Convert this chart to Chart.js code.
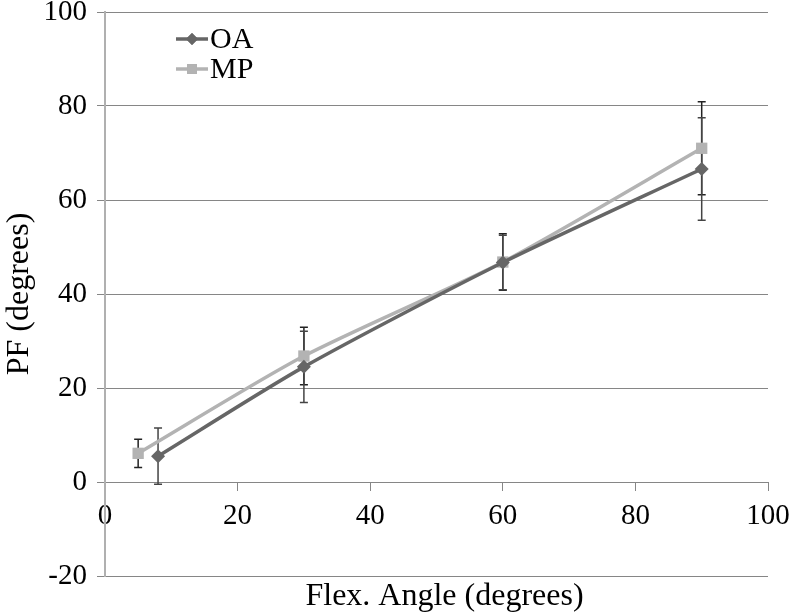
<!DOCTYPE html>
<html>
<head>
<meta charset="utf-8">
<script src="https://cdn.jsdelivr.net/npm/chart.js@4/dist/chart.umd.min.js"></script>
<style>
  html, body { margin: 0; padding: 0; background: #fff; }
  #wrap { width: 793px; height: 615px; }
</style>
</head>
<body>
<div id="wrap"><canvas id="chart" width="793" height="615"></canvas></div>
<script>
// values
const oaAngles = [8, 30, 60, 90];
const oaValues = [5.5, 24.5, 46.7, 66.6];
const oaErrors = [6.0, 7.6, 5.8, 10.9];

const mpAngles = [5, 30, 60, 90];
const mpValues = [6.1, 26.8, 46.8, 71.0];
const mpErrors = [3.0, 6.1, 6.0, 9.9];

const xTicks = [0, 20, 40, 60, 80, 100];
const yTicks = [-20, 0, 20, 40, 60, 80, 100];

const serif = "'Liberation Serif', 'Times New Roman', serif";
const oaColor = "#666666";
const mpColor = "#b3b3b3";

function points(xs, ys) {
  return xs.map((x, i) => ({ x: x, y: ys[i] }));
}

// error bars, drawn under the lines
const errorBars = {
  id: "errorBars",
  beforeDatasetsDraw(chart) {
    const ctx = chart.ctx;
    const xs = chart.scales.x, ys = chart.scales.y;
    const sets = [
      { xv: mpAngles, yv: mpValues, ev: mpErrors, color: "#222" },
      { xv: oaAngles, yv: oaValues, ev: oaErrors, color: "#444" }
    ];
    ctx.save();
    ctx.lineWidth = 1.5;
    sets.forEach(s => {
      ctx.strokeStyle = s.color;
      s.xv.forEach((xv, i) => {
        const px = xs.getPixelForValue(xv);
        const top = ys.getPixelForValue(s.yv[i] + s.ev[i]);
        const bot = ys.getPixelForValue(s.yv[i] - s.ev[i]);
        ctx.beginPath();
        ctx.moveTo(px, top); ctx.lineTo(px, bot);
        ctx.moveTo(px - 4, top); ctx.lineTo(px + 4, top);
        ctx.moveTo(px - 4, bot); ctx.lineTo(px + 4, bot);
        ctx.stroke();
      });
    });
    ctx.restore();
  }
};

// legend inside the plot and x axis title under the -20 line
const extras = {
  id: "extras",
  afterDraw(chart) {
    const ctx = chart.ctx;
    ctx.save();
    const items = [
      { label: "OA", color: oaColor, y: 39, style: "rectRot", r: 6 },
      { label: "MP", color: mpColor, y: 69, style: "rect", r: 7 }
    ];
    items.forEach(it => {
      ctx.strokeStyle = it.color;
      ctx.lineWidth = 3.5;
      ctx.beginPath();
      ctx.moveTo(176, it.y); ctx.lineTo(208, it.y);
      ctx.stroke();
      ctx.fillStyle = it.color;
      Chart.helpers.drawPoint(ctx, { pointStyle: it.style, radius: it.r, borderWidth: 0 }, 192, it.y);
      ctx.fill();
      ctx.fillStyle = "#000";
      ctx.font = "30px " + serif;
      ctx.textAlign = "left";
      ctx.textBaseline = "middle";
      ctx.fillText(it.label, 210, it.y + 1);
    });
    ctx.font = "32px " + serif;
    ctx.textAlign = "center";
    ctx.textBaseline = "middle";
    ctx.fillStyle = "#000";
    const a = chart.chartArea;
    ctx.fillText("Flex. Angle (degrees)", (a.left + a.right) / 2 + 8, 597);
    ctx.restore();
  }
};

new Chart(document.getElementById("chart"), {
  type: "scatter",
  data: {
    datasets: [
      {
        label: "OA",
        data: points(oaAngles, oaValues),
        showLine: true,
        tension: 0.25,
        borderColor: oaColor,
        backgroundColor: oaColor,
        borderWidth: 3.5,
        pointStyle: "rectRot",
        pointRadius: 7,
        pointBorderWidth: 0
      },
      {
        label: "MP",
        data: points(mpAngles, mpValues),
        showLine: true,
        tension: 0.25,
        borderColor: mpColor,
        backgroundColor: mpColor,
        borderWidth: 3.5,
        pointStyle: "rect",
        pointRadius: 8,
        pointBorderWidth: 0
      }
    ]
  },
  options: {
    responsive: false,
    animation: false,
    layout: { padding: { top: 12, right: 25, left: 0, bottom: 39 } },
    plugins: {
      legend: { display: false },
      tooltip: { enabled: false }
    },
    scales: {
      x: {
        type: "linear",
        position: { y: 0 },
        min: 0,
        max: 100,
        afterBuildTicks: s => { s.ticks = xTicks.map(v => ({ value: v })); },
        afterFit: s => { s.height = 0; s.paddingLeft = 0; s.paddingRight = 0; },
        grid: { drawOnChartArea: false, drawTicks: true, tickLength: 8, color: "#868686", lineWidth: 1 },
        border: { color: "#868686", width: 1 },
        ticks: { color: "#000", font: { family: serif, size: 29 }, padding: 9, maxRotation: 0 }
      },
      y: {
        min: -20,
        max: 100,
        afterBuildTicks: s => { s.ticks = yTicks.map(v => ({ value: v })); },
        afterFit: s => { s.width = 105; s.paddingTop = 0; s.paddingBottom = 0; },
        grid: { color: "#868686", lineWidth: 1, tickLength: 8 },
        border: { color: "#b0b0b0", width: 2 },
        ticks: { color: "#000", font: { family: serif, size: 29 }, padding: 10 },
        title: {
          display: true,
          text: "PF (degrees)",
          color: "#000",
          font: { family: serif, size: 32 },
          padding: { top: 0, bottom: 0 }
        }
      }
    }
  },
  plugins: [errorBars, extras]
});
</script>
</body>
</html>
